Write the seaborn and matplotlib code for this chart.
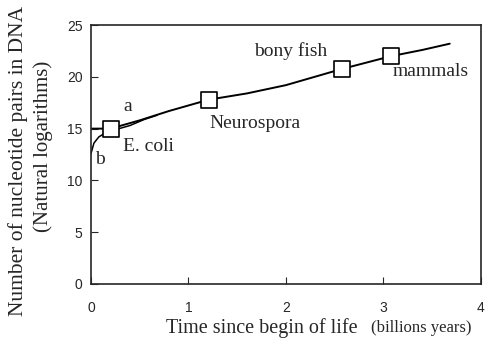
import numpy as np
import pandas as pd
import seaborn as sns
import matplotlib.pyplot as plt

# main curve (a) and the alternative early branch (b)
main_x = [0.0, 0.2, 0.5, 0.8, 1.21, 1.6, 2.0, 2.57, 3.08, 3.4, 3.68]
main_y = [15.0, 15.0, 15.8, 16.7, 17.8, 18.4, 19.2, 20.75, 22.0, 22.6, 23.2]
b_x = [0.0, 0.03, 0.08, 0.15, 0.25, 0.4, 0.55, 0.68]
b_y = [12.6, 13.6, 14.2, 14.6, 14.9, 15.3, 15.9, 16.3]

# organisms
org_names = ['E. coli', 'Neurospora', 'bony fish', 'mammals']
org_x = [0.2, 1.21, 2.57, 3.08]
org_y = [15.0, 17.8, 20.75, 22.0]

sns.set_style("ticks")
plt.rcParams['xtick.direction'] = 'in'
plt.rcParams['ytick.direction'] = 'in'

fig = plt.figure(figsize=(4.88, 3.48), dpi=100)
ax = fig.add_axes([0.1865, 0.184, 0.799, 0.744])

main = pd.DataFrame({'x': main_x, 'y': main_y})
early = pd.DataFrame({'x': b_x, 'y': b_y})
orgs = pd.DataFrame({'x': org_x, 'y': org_y, 'name': org_names})

sns.lineplot(data=main, x='x', y='y', color='black', lw=1.4, sort=False, ax=ax)
sns.lineplot(data=early, x='x', y='y', color='black', lw=1.1, sort=False, ax=ax)
sns.scatterplot(data=orgs, x='x', y='y', marker='s', s=130, color='white',
                edgecolor='black', linewidth=1.2, zorder=5, ax=ax)

serif = 'Liberation Serif'
lbl_pos = {'E. coli': (0.33, 13.3), 'Neurospora': (1.21, 15.5),
           'bony fish': (1.67, 22.5), 'mammals': (3.09, 20.5)}
for n in org_names:
    ax.text(*lbl_pos[n], n, family=serif, fontsize=14, va='center', ha='left')
ax.text(0.33, 17.1, 'a', family=serif, fontsize=14, va='center')
ax.text(0.04, 12.0, 'b', family=serif, fontsize=14, va='center')

ax.set_xlim(0, 4)
ax.set_ylim(0, 25)
ax.set_xticks([0, 1, 2, 3, 4])
ax.set_yticks([0, 5, 10, 15, 20, 25])
ax.tick_params(axis='x', pad=12, length=5, labelsize=10)
ax.tick_params(axis='y', pad=6, length=5, labelsize=10)
for lab in ax.get_xticklabels() + ax.get_yticklabels():
    lab.set_family('Liberation Sans')
for sp in ax.spines.values():
    sp.set_visible(True)
    sp.set_linewidth(1.2)

ax.set_xlabel('')
ax.set_ylabel('')
fig.text(0.537, 0.058, 'Time since begin of life', family=serif, fontsize=14.5,
         ha='center', va='center')
fig.text(0.863, 0.058, '(billions years)', family=serif, fontsize=12,
         ha='center', va='center')
fig.text(0.036, 0.537, 'Number of nucleotide pairs in DNA', family=serif,
         fontsize=15.5, rotation=90, ha='center', va='center')
fig.text(0.088, 0.58, '(Natural logarithms)', family=serif,
         fontsize=15, rotation=90, ha='center', va='center')

fig.savefig('out.png', dpi=100)
